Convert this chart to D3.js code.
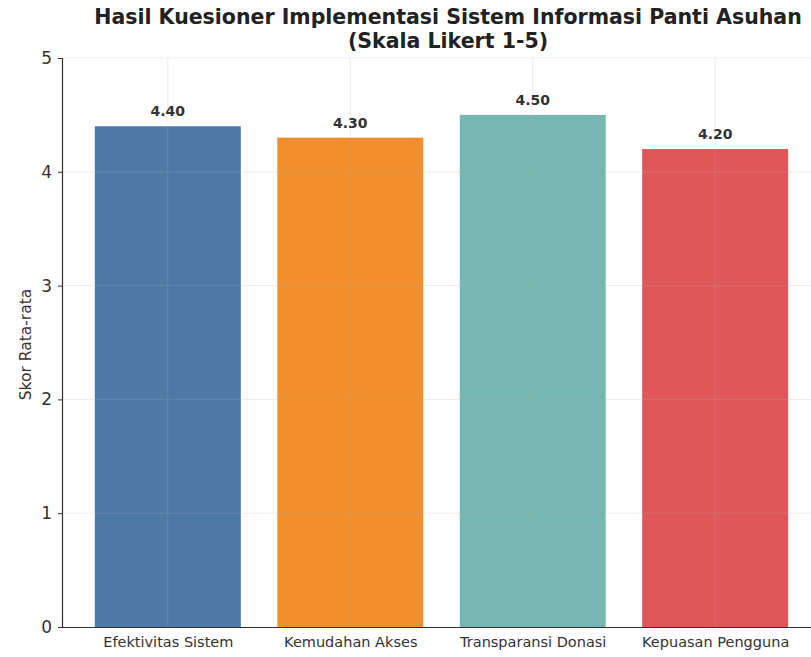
<!DOCTYPE html>
<html><head><meta charset="utf-8">
<script src="https://cdn.jsdelivr.net/npm/d3@7"></script>
<style>body{margin:0;background:#fff;} svg{display:block;font-family:"DejaVu Sans",sans-serif;}</style>
</head><body>
<svg id="chart" width="811" height="657"></svg>
<script>
const categories = ["Efektivitas Sistem", "Kemudahan Akses", "Transparansi Donasi", "Kepuasan Pengguna"];
const values = [4.40, 4.30, 4.50, 4.20];
const colors = ["#4e79a7", "#f28e2b", "#76b7b2", "#e15759"];
const yTicks = [0, 1, 2, 3, 4, 5];
const titleLines = ["Hasil Kuesioner Implementasi Sistem Informasi Panti Asuhan", "(Skala Likert 1-5)"];
const yLabel = "Skor Rata-rata";

(function () {
const svg = d3.select("#chart");
const mLeft = 62, mRight = 821, mTop = 58, mBottom = 627;

const x = d3.scaleLinear().domain([-0.58, 3.58]).range([mLeft, mRight]);
const y = d3.scaleLinear().domain([0, 5]).range([mBottom, mTop]);
const bw = x(0.4) - x(-0.4);

svg.append("g").selectAll("rect").data(values).join("rect")
  .attr("x", (d, i) => x(i) - bw / 2)
  .attr("y", d => y(d))
  .attr("width", bw)
  .attr("height", d => y(0) - y(d))
  .attr("fill", (d, i) => colors[i]);

const grid = svg.append("g").attr("stroke", "#b0b0b0").attr("stroke-opacity", 0.3).attr("stroke-width", 0.8);
grid.selectAll(".gy").data(yTicks.slice(1)).join("line")
  .attr("x1", mLeft).attr("x2", mRight).attr("y1", d => y(d)).attr("y2", d => y(d));
grid.selectAll(".gx").data(categories).join("line")
  .attr("x1", (d, i) => x(i)).attr("x2", (d, i) => x(i)).attr("y1", mTop).attr("y2", mBottom);

svg.append("g").selectAll("text").data(values).join("text")
  .attr("x", (d, i) => x(i))
  .attr("y", d => y(d) - 10)
  .attr("text-anchor", "middle")
  .attr("font-size", 14).attr("font-weight", "bold").attr("fill", "#333")
  .text(d => d.toFixed(2));

const yAxis = svg.append("g").attr("transform", `translate(${mLeft},0)`)
  .call(d3.axisLeft(y).tickValues(yTicks).tickFormat(d3.format("d")).tickSize(4).tickPadding(6));
yAxis.select(".domain").attr("stroke", "#333").attr("stroke-width", 1.2);
yAxis.selectAll(".tick line").attr("stroke", "#333");
yAxis.selectAll(".tick text").attr("font-size", 17).attr("fill", "#333").attr("font-family", "DejaVu Sans");

const xAxis = svg.append("g").attr("transform", `translate(0,${mBottom})`)
  .call(d3.axisBottom(x).tickValues(d3.range(categories.length)).tickFormat(i => categories[i]).tickSize(0).tickPadding(10));
xAxis.select(".domain").attr("stroke", "#333").attr("stroke-width", 1.2);
xAxis.selectAll(".tick text").attr("font-size", 14.5).attr("fill", "#333").attr("font-family", "DejaVu Sans");

svg.append("text")
  .attr("transform", `translate(31,${(mTop + mBottom) / 2 + 2}) rotate(-90)`)
  .attr("text-anchor", "middle")
  .attr("font-size", 15.5).attr("fill", "#333")
  .text(yLabel);

svg.append("g").selectAll("text").data(titleLines).join("text")
  .attr("x", 448)
  .attr("y", (d, i) => 24 + i * 24)
  .attr("text-anchor", "middle")
  .attr("font-size", 20.5).attr("font-weight", "bold").attr("fill", "#222")
  .text(d => d);
})();
</script>
</body></html>
